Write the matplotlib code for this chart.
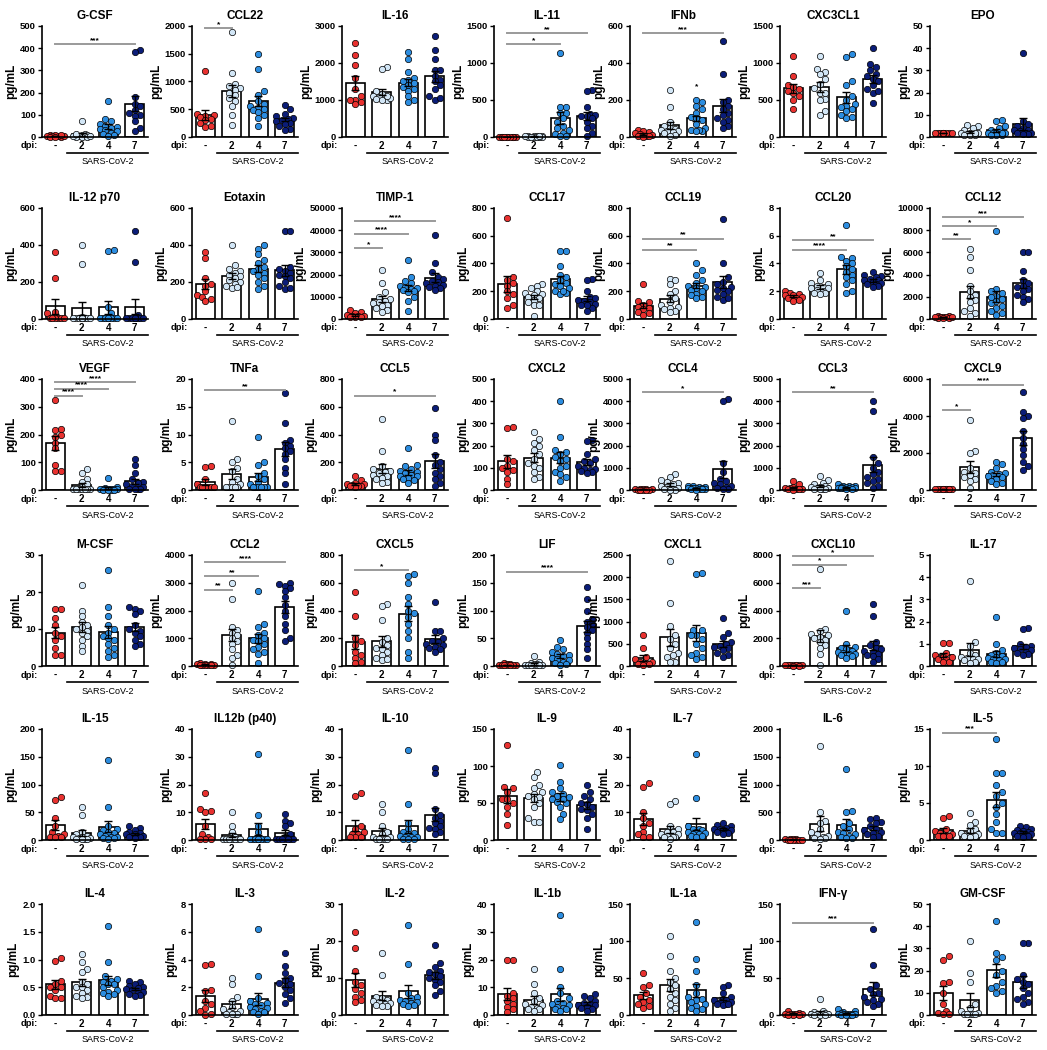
import numpy as np
import matplotlib
matplotlib.use("Agg")
import matplotlib.pyplot as plt
from matplotlib.transforms import offset_copy

plt.rcParams["font.family"] = ["Liberation Sans", "DejaVu Sans"]

# ── Data ──────────────────────────────────────────────────────────────────────
# each panel: [mock, 2 dpi, 4 dpi, 7 dpi]
GCSF = [[2, 3, 5, 8, 10, 4, 6, 2, 9, 1],
        [70, 15, 10, 8, 5, 3, 2, 0, 1, 6, 4, 12],
        [160, 80, 70, 60, 50, 45, 40, 35, 30, 25, 20, 15, 10, 5],
        [390, 385, 180, 150, 140, 120, 110, 100, 95, 70, 40, 25]]
CCL22 = [[1190, 410, 400, 380, 360, 330, 300, 250, 180, 200],
         [1900, 1160, 950, 920, 880, 850, 800, 750, 700, 650, 560, 400, 220],
         [1500, 1220, 820, 760, 650, 600, 560, 520, 500, 480, 450, 400, 350, 200],
         [570, 500, 420, 380, 350, 320, 300, 280, 260, 240, 200, 150, 130]]
IL16 = [[2530, 2220, 1950, 1600, 1300, 1100, 1000, 950, 900, 1000],
        [1900, 1850, 1250, 1150, 1100, 1080, 1050, 1030, 1000, 1000, 1060, 1120],
        [2300, 2100, 1750, 1600, 1550, 1500, 1450, 1400, 1350, 1300, 1250, 1100, 1000, 950],
        [2730, 2350, 2100, 1800, 1800, 1650, 1550, 1500, 1400, 1300, 1100, 1000, 1050]]
IL11 = [[2, 3, 1, 4, 2, 0, 5, 3, 1, 2],
        [10, 15, 5, 8, 3, 0, 12, 6, 2, 4, 9, 7],
        [1140, 410, 400, 330, 320, 250, 200, 150, 120, 100, 60, 40, 20, 10],
        [640, 620, 400, 310, 300, 290, 280, 260, 200, 150, 120, 50, 10]]
IFNB = [[40, 35, 25, 20, 15, 10, 8, 5, 3, 2],
        [255, 160, 80, 60, 50, 45, 40, 35, 30, 25, 20, 10, 5],
        [200, 190, 170, 150, 130, 110, 100, 90, 70, 50, 40, 30, 40, 30],
        [520, 340, 200, 190, 170, 150, 130, 120, 100, 90, 80, 60, 50]]
CX3CL1 = [[1100, 820, 700, 680, 650, 600, 550, 500, 380, 620],
          [1100, 920, 880, 850, 780, 720, 660, 600, 520, 500, 350, 300, 600],
          [1120, 1080, 750, 700, 550, 500, 450, 420, 400, 380, 350, 300, 270, 250],
          [1200, 980, 950, 900, 850, 820, 780, 750, 700, 650, 600, 460, 620]]
EPO = [[2, 2, 2, 2, 2, 2, 2, 2, 2, 2],
       [5.5, 5, 4, 3, 2, 2, 2, 1.5, 1.5, 1, 1, 1, 2],
       [7.5, 7, 5, 4, 3, 2, 2, 2, 2, 1.5, 1, 1, 1, 2],
       [38, 7, 6, 5, 4, 3, 3, 2.5, 2, 2, 2, 1.5, 1.5]]

IL12P70 = [[360, 220, 40, 30, 5, 5, 5, 5, 5, 5],
           [400, 295, 10, 5, 5, 5, 5, 5, 5, 5, 5, 5, 5],
           [375, 370, 65, 30, 10, 5, 5, 5, 5, 5, 5, 5, 5, 5],
           [475, 310, 20, 10, 5, 5, 5, 5, 5, 5, 5, 5, 5]]
EOTAXIN = [[360, 330, 220, 190, 150, 130, 120, 110, 95, 180],
           [400, 290, 270, 260, 250, 240, 230, 220, 210, 200, 190, 180, 170, 175],
           [400, 380, 350, 320, 300, 280, 270, 260, 250, 240, 220, 200, 180, 160],
           [475, 475, 280, 270, 260, 250, 240, 230, 220, 200, 180, 160, 170]]
TIMP1 = [[4000, 3000, 2500, 2000, 1500, 1200, 1000, 800, 1500, 1000],
         [22000, 16000, 12000, 10000, 9000, 8000, 7500, 7000, 6500, 6000, 5000, 4000, 3000],
         [26500, 19000, 17000, 16000, 15000, 14500, 14000, 13500, 13000, 12500, 12000, 10000, 8000, 3500],
         [38000, 25000, 21000, 19000, 18000, 17000, 16500, 16000, 15500, 15000, 14500, 14000, 13000]]
CCL17 = [[730, 300, 280, 260, 240, 200, 180, 150, 100, 80],
         [250, 240, 220, 200, 190, 180, 170, 160, 150, 140, 120, 100, 20, 100],
         [490, 490, 380, 320, 300, 280, 260, 250, 240, 220, 200, 190, 180, 200],
         [290, 280, 200, 160, 150, 140, 130, 120, 110, 100, 80, 60, 100]]
CCL19 = [[250, 130, 120, 100, 90, 80, 70, 50, 40, 30],
         [290, 280, 250, 200, 180, 150, 120, 100, 90, 80, 70, 60, 50],
         [400, 350, 320, 280, 260, 240, 230, 220, 210, 200, 180, 170, 150, 160],
         [720, 400, 300, 270, 250, 230, 220, 210, 200, 180, 160, 140, 150]]
CCL20 = [[2.0, 1.9, 1.8, 1.7, 1.7, 1.6, 1.5, 1.5, 1.4, 1.3],
         [3.3, 2.8, 2.6, 2.5, 2.4, 2.3, 2.2, 2.2, 2.1, 2.0, 1.9, 1.9, 1.8],
         [6.8, 4.5, 4.4, 4.2, 4.0, 3.8, 3.6, 3.4, 3.2, 3.0, 2.8, 2.5, 2.0, 1.9],
         [3.4, 3.2, 3.1, 3.0, 2.9, 2.8, 2.8, 2.7, 2.6, 2.5, 2.5, 2.4, 2.3]]
CCL12 = [[300, 250, 200, 150, 150, 100, 100, 100, 150, 200],
         [6300, 5600, 4400, 3000, 2500, 2200, 2000, 1700, 1500, 1000, 500, 300, 700],
         [7900, 2700, 2500, 2300, 2100, 2000, 1800, 1600, 1400, 1200, 1000, 500, 400, 700],
         [6000, 6000, 4300, 3500, 3200, 3000, 2900, 2700, 2500, 2200, 2000, 1800, 1500]]

VEGF = [[325, 220, 215, 200, 190, 170, 150, 90, 70, 70],
        [75, 60, 40, 30, 20, 10, 5, 3, 2, 2, 2, 2, 2],
        [45, 10, 8, 5, 5, 3, 3, 2, 2, 2, 1, 1, 1, 1],
        [110, 90, 60, 40, 30, 25, 20, 15, 10, 5, 3, 2, 2]]
TNFA = [[4.3, 4.2, 2, 1, 0.5, 0.5, 0.5, 0.5, 0.5, 0.5],
        [12.5, 5.5, 5, 4, 3.5, 2, 1.5, 1, 0.5, 0.5, 0.5, 0.5, 0.5],
        [9.5, 5, 4.5, 3, 2.5, 2, 1.5, 1, 0.5, 0.5, 0.5, 0.5, 0.5, 0.5],
        [17.5, 12, 9, 8.5, 8, 7.5, 7, 6.5, 5.5, 4, 3, 1]]
CCL5 = [[100, 70, 50, 40, 40, 35, 30, 30, 25, 30],
        [510, 280, 170, 150, 140, 130, 120, 110, 100, 90, 80, 60, 50],
        [300, 180, 170, 150, 140, 130, 120, 110, 100, 100, 90, 80, 70, 50],
        [590, 400, 360, 250, 200, 180, 150, 120, 100, 80, 50, 30]]
CXCL2 = [[285, 280, 140, 130, 110, 100, 90, 80, 50, 25],
         [260, 230, 210, 200, 180, 160, 140, 120, 110, 100, 80, 60, 50],
         [400, 240, 180, 170, 160, 150, 140, 130, 110, 100, 80, 60, 40, 70],
         [225, 220, 160, 140, 130, 120, 110, 100, 95, 90, 85, 80, 75]]
CCL4 = [[60, 50, 40, 30, 30, 20, 20, 20, 20, 20],
        [700, 600, 450, 350, 300, 250, 200, 150, 100, 50, 30, 20, 10],
        [200, 180, 150, 120, 110, 100, 90, 80, 70, 60, 50, 40, 30, 20],
        [4100, 4000, 1200, 800, 500, 400, 300, 250, 200, 150, 100, 50, 30]]
CCL3 = [[400, 250, 150, 100, 80, 60, 50, 40, 30, 20],
        [650, 450, 300, 250, 200, 150, 120, 100, 80, 60, 50, 40, 30],
        [250, 200, 180, 160, 150, 130, 120, 110, 100, 90, 80, 70, 60, 50],
        [4000, 3550, 1500, 1200, 1000, 800, 700, 600, 500, 400, 300, 200, 100]]
CXCL9 = [[80, 70, 60, 50, 50, 40, 40, 30, 30, 50],
         [3800, 2100, 2000, 1200, 1000, 900, 800, 700, 600, 500, 100],
         [1500, 1400, 1200, 1000, 900, 850, 800, 750, 700, 600, 500, 400, 300],
         [5300, 4200, 4000, 3900, 3200, 2800, 2500, 2200, 1900, 1500, 1300, 1100]]

MCSF = [[15.5, 15.5, 13, 11, 9, 8, 7, 5, 3, 3],
        [22, 15, 13.5, 12, 11, 10.5, 10, 9.5, 9, 8, 7, 5.5, 4],
        [26, 16, 13.5, 11, 10, 9, 8, 7.5, 7, 6, 5, 4, 3, 2.5],
        [16, 15.5, 15, 14, 11, 10, 9.5, 9, 8, 7, 6, 5.5]]
CCL2 = [[100, 90, 80, 60, 50, 50, 40, 40, 50, 40],
        [3000, 2400, 1400, 1300, 1200, 1100, 1000, 900, 800, 600, 400, 300, 50],
        [2700, 1500, 1400, 1200, 1100, 1000, 950, 900, 800, 700, 500, 600, 450, 100],
        [3000, 2950, 2900, 2800, 2700, 2500, 2200, 2000, 1800, 1500, 1300, 1000, 900]]
CXCL5 = [[530, 360, 200, 180, 150, 100, 80, 60, 30, 20],
         [450, 430, 330, 200, 170, 150, 130, 120, 100, 80, 60, 40, 50],
         [660, 650, 600, 500, 450, 400, 380, 350, 300, 250, 200, 100, 60],
         [460, 250, 250, 200, 180, 170, 160, 150, 140, 130, 120, 100]]
LIF = [[5, 4, 3, 2, 2, 1, 1, 1, 1, 1],
       [18, 8, 5, 4, 3, 2, 2, 1, 1, 1, 1, 1],
       [47, 35, 30, 25, 22, 20, 18, 15, 12, 10, 8, 5, 3, 2],
       [143, 120, 100, 85, 80, 75, 70, 65, 60, 50, 40, 30, 15]]
CXCL1 = [[700, 400, 200, 150, 100, 80, 60, 50, 40, 30],
         [2370, 1430, 900, 700, 600, 500, 400, 300, 250, 200, 100, 80],
         [2100, 2080, 800, 700, 800, 700, 600, 500, 400, 300, 250, 200, 150],
         [1080, 750, 650, 550, 500, 450, 420, 400, 350, 300, 250, 200]]
CXCL10 = [[80, 70, 60, 50, 50, 40, 40, 30, 30, 50],
          [7000, 2700, 2500, 2300, 2200, 2100, 2000, 1900, 1700, 1500, 1300, 900, 50],
          [4000, 1600, 1400, 1300, 1200, 1100, 1000, 950, 900, 850, 800, 700, 600],
          [4500, 3600, 1700, 1500, 1300, 1200, 1100, 1000, 900, 800, 700, 500, 300]]
IL17 = [[1.05, 1.05, 0.6, 0.5, 0.4, 0.3, 0.3, 0.2, 0.2, 0.4],
        [3.85, 1.1, 0.9, 0.6, 0.5, 0.4, 0.35, 0.3, 0.3, 0.25, 0.2, 0.15],
        [2.2, 1.0, 0.7, 0.6, 0.5, 0.45, 0.4, 0.35, 0.3, 0.3, 0.25, 0.2, 0.2, 0.15],
        [1.7, 1.65, 1.0, 0.9, 0.85, 0.8, 0.75, 0.7, 0.65, 0.6, 0.55, 0.5]]

IL15 = [[78, 72, 40, 25, 15, 10, 8, 6, 5, 5],
        [60, 45, 15, 10, 8, 6, 5, 4, 3, 2, 2, 2, 2],
        [145, 60, 25, 20, 18, 15, 12, 10, 8, 6, 5, 4, 3, 2],
        [25, 22, 18, 15, 12, 10, 10, 8, 8, 6, 5, 5, 4]]
IL12B = [[17, 11, 10.5, 10, 5, 2, 1, 0.5, 0.5, 0.5],
         [10, 5, 3, 1, 0.5, 0.5, 0.3, 0.3, 0.3, 0.3, 0.3, 0.3],
         [31, 9, 5, 3, 1, 0.5, 0.5, 0.5, 0.5, 0.5, 0.5, 0.5, 0.5, 0.5],
         [9.5, 7, 6, 5, 2, 1, 0.5, 0.5, 0.5, 0.5, 0.5, 0.5, 0.5]]
IL10 = [[17, 16, 5, 4, 3, 2, 2, 1, 1, 1],
        [13, 10, 5, 3, 2, 1, 1, 0.5, 0.5, 0.5, 0.5, 0.5],
        [32.5, 13, 6, 4, 3, 2.5, 2, 1.5, 1, 1, 1, 0.5, 0.5, 0.5],
        [26, 24, 11, 9, 8, 7, 6, 5, 4.5, 4, 3, 2]]
IL9 = [[128, 72, 70, 65, 55, 50, 45, 35, 20, 55],
       [92, 85, 75, 70, 65, 62, 60, 58, 55, 50, 45, 30, 25, 25],
       [101, 78, 70, 65, 62, 60, 58, 55, 52, 50, 45, 35, 28, 55],
       [75, 65, 60, 55, 50, 48, 45, 42, 40, 35, 30, 15]]
IL7 = [[20.5, 19, 10, 8, 6, 5, 3, 2, 1, 1],
       [14, 13, 5, 4, 3, 3, 2, 2, 1.5, 1, 1, 1, 0.5],
       [31, 15, 5, 4, 4, 3.5, 3, 3, 2.5, 2, 2, 1.5, 1.5, 1],
       [6, 5.5, 5, 4.5, 4, 4, 3.5, 3.5, 3, 3, 2.5, 2]]
IL6 = [[20, 15, 10, 10, 5, 5, 5, 5, 5, 5],
       [1700, 500, 350, 300, 200, 150, 100, 80, 60, 40, 30, 20],
       [1280, 520, 500, 300, 250, 200, 150, 120, 100, 80, 60, 40, 30],
       [400, 380, 320, 300, 250, 200, 180, 150, 120, 100, 80, 50]]
IL5 = [[3.2, 3.0, 1.5, 1.2, 1.0, 0.8, 0.7, 0.6, 0.5, 0.5],
       [3.6, 2.5, 2.0, 1.5, 1.2, 1.0, 0.8, 0.7, 0.6, 0.5, 0.5, 0.4],
       [13.7, 9.0, 9.0, 7.5, 6.5, 6.0, 5.0, 4.5, 3.5, 2.5, 1.5, 1.0, 1.0],
       [1.9, 1.7, 1.5, 1.3, 1.2, 1.1, 1.0, 0.9, 0.8, 0.7, 0.6, 0.5, 0.4]]

IL4 = [[1.03, 0.98, 0.62, 0.55, 0.5, 0.45, 0.35, 0.3, 0.3, 0.5],
       [1.1, 0.95, 0.82, 0.78, 0.6, 0.55, 0.5, 0.45, 0.4, 0.35, 0.32, 0.3, 0.5],
       [1.6, 0.95, 0.7, 0.65, 0.62, 0.6, 0.55, 0.5, 0.45, 0.42, 0.4, 0.38, 0.35, 0.55],
       [0.62, 0.6, 0.55, 0.52, 0.5, 0.48, 0.46, 0.45, 0.42, 0.4, 0.38, 0.36, 0.35]]
IL3 = [[3.7, 3.6, 1.8, 1.7, 1.0, 0.8, 0.5, 0.3, 0.1, 0.0],
       [2.7, 2.2, 1.3, 1.0, 0.6, 0.4, 0.3, 0.2, 0.1, 0.1, 0.1, 0.1],
       [6.2, 2.8, 1.2, 1.0, 0.9, 0.8, 0.7, 0.6, 0.5, 0.4, 0.3, 0.2, 0.2, 0.1],
       [4.5, 3.5, 3.0, 2.7, 2.5, 2.3, 2.2, 2.0, 1.8, 1.5, 1.2, 0.9]]
IL2 = [[22.5, 18, 12, 9, 8, 7, 6, 5, 4, 3.5],
       [16.8, 10.7, 5, 4.5, 4, 3.8, 3.5, 3.2, 3, 2.8, 2.5, 2.3],
       [24.3, 13.7, 6, 5, 4.5, 4, 3.8, 3.5, 3.2, 3, 2.8, 2.5],
       [18.8, 14, 13, 12, 11.5, 11, 10.5, 10, 9.5, 9, 8, 6.5, 5.5]]
IL1B = [[20, 20, 8, 7, 6, 5, 4, 3, 2, 1],
        [16.5, 11, 8, 6, 5, 4, 3.5, 3, 2.5, 2, 2, 1.5],
        [36, 16.5, 10, 8, 6, 5, 4.5, 4, 3.5, 3, 2.5, 2, 2, 1.5],
        [7.5, 7, 6, 5, 4.5, 4, 3.5, 3.5, 3, 2.5, 2, 1.5]]
IL1A = [[57, 40, 38, 30, 25, 20, 18, 15, 12, 10],
        [107, 80, 60, 50, 45, 40, 35, 30, 25, 20, 15, 10, 5],
        [126, 76, 60, 40, 30, 25, 22, 20, 18, 15, 12, 10, 8, 5],
        [40, 38, 30, 25, 22, 20, 20, 18, 18, 15, 15, 14, 15]]
IFNG = [[5, 3, 2, 2, 1, 1, 1, 0.5, 0.5, 0.5],
        [22, 5, 4, 3, 2, 2, 1, 1, 1, 0.5, 0.5, 0.5],
        [8, 6, 4, 3, 2, 2, 1.5, 1, 1, 1, 0.5, 0.5, 0.5, 0.5],
        [116, 67, 40, 35, 30, 28, 25, 22, 20, 18, 15, 12]]
GMCSF = [[26.5, 25, 15, 14.5, 10, 5, 2, 1, 0.5, 0.5],
         [33.5, 19, 15, 5, 3, 2, 1, 0.5, 0.5, 0.5, 0.5, 0.5],
         [42.5, 26, 28, 25, 20, 18, 15, 13, 12, 11, 10],
         [32.5, 32.5, 18, 16, 15, 14, 12, 10, 8, 7, 6, 5]]

TITLES = ["G-CSF", "CCL22", "IL-16", "IL-11", "IFNb", "CXC3CL1", "EPO",
          "IL-12 p70", "Eotaxin", "TIMP-1", "CCL17", "CCL19", "CCL20", "CCL12",
          "VEGF", "TNFa", "CCL5", "CXCL2", "CCL4", "CCL3", "CXCL9",
          "M-CSF", "CCL2", "CXCL5", "LIF", "CXCL1", "CXCL10", "IL-17",
          "IL-15", "IL12b (p40)", "IL-10", "IL-9", "IL-7", "IL-6", "IL-5",
          "IL-4", "IL-3", "IL-2", "IL-1b", "IL-1a", "IFN-\u03b3", "GM-CSF"]
PANEL_DATA = [GCSF, CCL22, IL16, IL11, IFNB, CX3CL1, EPO,
              IL12P70, EOTAXIN, TIMP1, CCL17, CCL19, CCL20, CCL12,
              VEGF, TNFA, CCL5, CXCL2, CCL4, CCL3, CXCL9,
              MCSF, CCL2, CXCL5, LIF, CXCL1, CXCL10, IL17,
              IL15, IL12B, IL10, IL9, IL7, IL6, IL5,
              IL4, IL3, IL2, IL1B, IL1A, IFNG, GMCSF]
YMAX = [500, 2000, 3000, 1500, 600, 1500, 50,
        600, 600, 50000, 800, 800, 8, 10000,
        400, 20, 800, 500, 5000, 5000, 6000,
        30, 4000, 800, 200, 2500, 8000, 5,
        200, 40, 40, 150, 40, 2000, 15,
        2.0, 8, 30, 40, 150, 150, 50]
YSTEP = [100, 500, 1000, 500, 200, 500, 10,
         200, 200, 10000, 200, 200, 2, 2000,
         100, 5, 200, 100, 1000, 1000, 2000,
         10, 1000, 200, 50, 500, 2000, 1,
         50, 10, 10, 50, 10, 500, 5,
         0.5, 2, 10, 10, 50, 50, 10]
# significance: (from group, to group, stars, y value); from == to -> star only
SIGS = {0: [(0, 3, "***", 420)],
        1: [(0, 1, "*", 1960)],
        3: [(0, 2, "*", 1250), (0, 3, "**", 1400)],
        4: [(0, 3, "***", 560), (2, 2, "*", 255)],
        9: [(0, 1, "*", 32000), (0, 2, "****", 38500), (0, 3, "****", 44000)],
        11: [(0, 2, "**", 500), (0, 3, "**", 580)],
        12: [(0, 2, "****", 5.0), (0, 3, "**", 5.7)],
        13: [(0, 1, "**", 7200), (0, 2, "*", 8400), (0, 3, "***", 9200)],
        14: [(0, 1, "****", 340), (0, 2, "****", 365), (0, 3, "****", 390)],
        15: [(0, 3, "**", 18)],
        16: [(0, 3, "*", 680)],
        18: [(0, 3, "*", 4400)],
        19: [(0, 3, "**", 4400)],
        20: [(0, 1, "*", 4300), (0, 3, "****", 5700)],
        22: [(0, 1, "**", 2750), (0, 2, "**", 3250), (0, 3, "****", 3750)],
        23: [(0, 2, "*", 690)],
        24: [(0, 3, "****", 170)],
        26: [(0, 1, "***", 5600), (0, 2, "*", 7300), (0, 3, "*", 7900)],
        34: [(0, 2, "***", 14.5)],
        40: [(0, 3, "***", 125)]}
GROUP_LABELS = ["-", "2", "4", "7"]
COLORS = ["#e8312f", "#d2e6f6", "#2c8de0", "#0b1d78"]

# ── Layout (pixels) ───────────────────────────────────────────────────────────
W, H = 1047, 1050
COL_X = [42, 192, 342, 494, 630, 780, 930]
ROW_TOP = [26, 208, 379, 555, 729, 904]
AX_W, AX_H = 106, 111
DIAM = 6.3


def swarm(vals, px_per_unit, slot_px):
    # simple deterministic beeswarm in pixel space
    vals = np.asarray(vals, dtype=float)
    order = np.argsort(vals)
    step = DIAM * 0.45
    cands = [0.0]
    for k in range(1, 6):
        cands += [k * step, -k * step]
    cands = [c for c in cands if abs(c) <= 0.33 * slot_px]
    placed = []
    offs = np.zeros(len(vals))
    for i in order:
        y = vals[i] * px_per_unit
        best, best_d, best_fallback = None, -1, 0.0
        for c in cands:
            d = min([np.hypot(c - px, y - py) for px, py in placed] or [99])
            if d >= DIAM * 0.85:
                best = c
                break
            if d > best_d:
                best_d, best_fallback = d, c
        if best is None:
            best = best_fallback
        placed.append((best, y))
        offs[i] = best / slot_px
    return offs


fig = plt.figure(figsize=(W / 100, H / 100), dpi=100)

for idx, (title, groups) in enumerate(zip(TITLES, PANEL_DATA)):
    r, c = divmod(idx, 7)
    left, top = COL_X[c], ROW_TOP[r]
    ax = fig.add_axes([left / W, 1 - (top + AX_H) / H, AX_W / W, AX_H / H])
    ymax, ystep = YMAX[idx], YSTEP[idx]
    ax.set_xlim(-0.5, 3.5)
    ax.set_ylim(0, ymax)

    slot_px = AX_W / 4.0
    px_per_unit = AX_H / ymax
    for g, vals in enumerate(groups):
        vals = np.asarray(vals, dtype=float)
        mean = vals.mean()
        sem = vals.std(ddof=1) / np.sqrt(len(vals))
        ax.bar(g, mean, width=0.7, color="white", edgecolor="black",
               linewidth=1.2, zorder=1)
        xs = g + swarm(vals, px_per_unit, slot_px)
        ax.scatter(xs, vals, s=21, color=COLORS[g], edgecolor="black",
                   linewidth=0.5, zorder=2, clip_on=False)
        ax.errorbar(g, mean, yerr=sem, color="black", lw=1.0, capsize=3,
                    capthick=1.0, zorder=3)

    for a, b, stars, yv in SIGS.get(idx, []):
        if a != b:
            ax.plot([a, b], [yv, yv], color="#9a9a9a", lw=1.4, zorder=4,
                    clip_on=False)
        ax.text((a + b) / 2, yv, stars, ha="center", va="bottom",
                fontsize=6, fontweight="bold", zorder=5)

    ticks = np.arange(0, ymax + ystep / 2, ystep)
    ax.set_yticks(ticks)
    if ystep < 1:
        ax.set_yticklabels([f"{t:.1f}" for t in ticks])
    else:
        ax.set_yticklabels([f"{t:g}" for t in ticks])
    ax.set_xticks([])
    ax.tick_params(axis="y", labelsize=6.8, length=3, width=1, pad=1.5)
    for lab in ax.get_yticklabels():
        lab.set_fontweight("bold")
    for s in ["top", "right"]:
        ax.spines[s].set_visible(False)
    for s in ["left", "bottom"]:
        ax.spines[s].set_linewidth(1.2)
    ax.set_ylabel("pg/mL", fontsize=8.5, fontweight="bold", labelpad=2)
    ax.set_title(title, fontsize=8.5, fontweight="bold", pad=5)

    # dpi labels under the axis
    xa = ax.get_xaxis_transform()
    t_lab = offset_copy(xa, fig=fig, y=-9, units="dots")
    for g, lab in enumerate(GROUP_LABELS):
        ax.text(g, 0, lab, transform=t_lab, ha="center", va="center",
                fontsize=7, fontweight="bold")
    ax.text(-0.5, 0, "dpi:", transform=offset_copy(xa, fig=fig, x=-4, y=-9, units="dots"),
            ha="right", va="center", fontsize=6.8, fontweight="bold")
    ax.plot([0.45, 3.5], [0, 0], transform=offset_copy(xa, fig=fig, y=-16, units="dots"),
            color="black", lw=1.2, clip_on=False)
    ax.text(1.97, 0, "SARS-CoV-2", transform=offset_copy(xa, fig=fig, y=-25, units="dots"),
            ha="center", va="center", fontsize=6.5)

fig.savefig("out.png", dpi=100)
